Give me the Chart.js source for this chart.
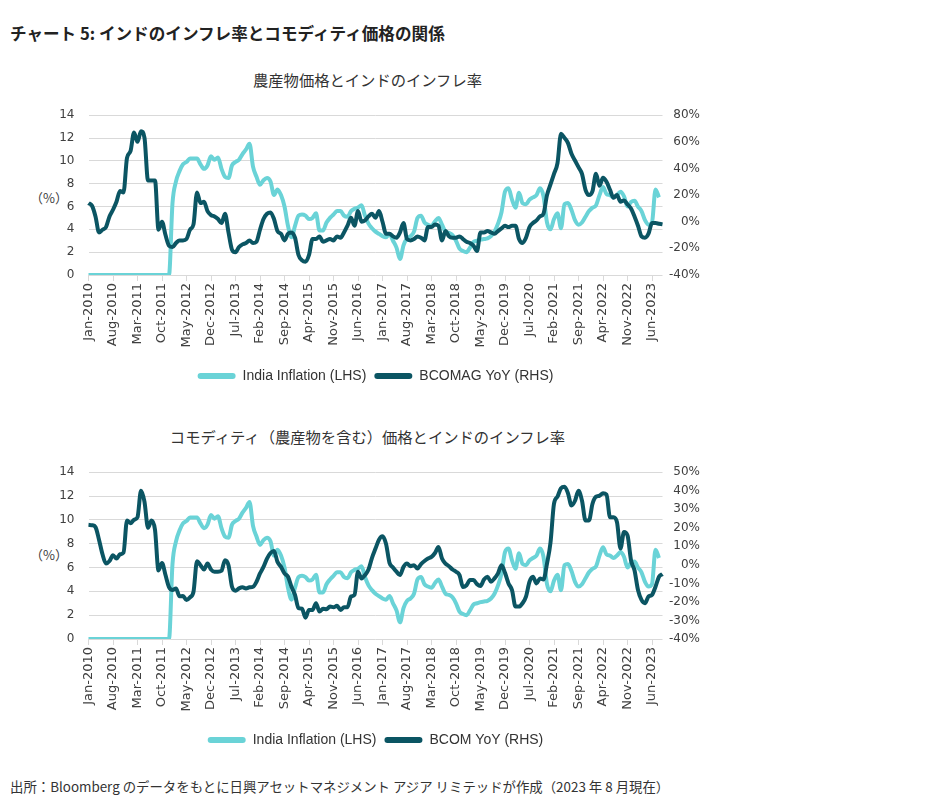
<!DOCTYPE html>
<html lang="ja">
<head>
<meta charset="utf-8">
<title>チャート 5</title>
<script src="https://cdn.jsdelivr.net/npm/chart.js@4.4.0/dist/chart.umd.min.js"></script>
<style>
  body { margin: 0; background: #fff; width: 934px; height: 812px; position: relative; overflow: hidden;
         font-family: 'Noto Sans CJK JP', sans-serif; color: #333; }
  .txt { position: absolute; line-height: 1; white-space: nowrap; }
  .title { left: 10px; top: 25px; font-size: 16.6px; font-weight: 700; color: #222; }
  .sub { left: 80px; width: 575px; text-align: center; font-size: 15.3px; color: #333; }
  .unit { left: 30px; font-size: 13px; color: #404040; }
  .src { left: 10px; top: 780px; font-size: 13.4px; color: #333; }
  .box { position: absolute; left: 0; width: 934px; }
</style>
</head>
<body>
<div class="txt title">チャート 5: インドのインフレ率とコモディティ価格の関係</div>
<div class="txt sub" style="top:72px">農産物価格とインドのインフレ率</div>
<div class="txt unit" style="top:191px">（%）</div>
<div class="box" style="top:94px;height:303px"><canvas id="chartAg"></canvas></div>
<div class="txt sub" style="top:429px">コモディティ（農産物を含む）価格とインドのインフレ率</div>
<div class="txt unit" style="top:548px">（%）</div>
<div class="box" style="top:451px;height:310px"><canvas id="chartAll"></canvas></div>
<div class="txt src">出所：Bloomberg のデータをもとに日興アセットマネジメント アジア リミテッドが作成（2023 年 8 月現在）</div>

<script>
// 月次データ Jan-2010 ～ Sep-2023
const monthNames = ['Jan', 'Feb', 'Mar', 'Apr', 'May', 'Jun', 'Jul', 'Aug', 'Sep', 'Oct', 'Nov', 'Dec'];
const firstYear = 2010;
const monthCount = 165;
const tickEvery = 7;

const categories = [];
for (let i = 0; i < monthCount; i++) {
    categories.push(monthNames[i % 12] + '-' + (firstYear + Math.floor(i / 12)));
}

// India Inflation (%), 2012年以前は 0
const indiaInflation = [
    0, 0, 0, 0, 0, 0, 0, 0, 0, 0, 0, 0,
    0, 0, 0, 0, 0, 0, 0, 0, 0, 0, 0, 0,
    6.3, 8.2, 9.1, 9.7, 9.9, 10.2, 10.2, 10.2, 9.7, 9.3, 9.6, 10.4,
    10.1, 10.3, 9.3, 8.6, 8.5, 9.6, 9.9, 10.1, 10.6, 11.0, 11.5, 9.5,
    8.6, 7.9, 8.3, 8.5, 8.2, 7.0, 7.5, 7.0, 6.0, 4.3, 3.3, 4.3,
    5.2, 5.3, 5.2, 4.9, 5.0, 5.4, 3.9, 3.9, 4.6, 5.0, 5.3, 5.6,
    5.6, 5.2, 5.1, 5.6, 5.8, 5.9, 6.1, 5.2, 4.5, 4.1, 3.8, 3.6,
    3.4, 3.3, 3.6, 3.0, 2.4, 1.4, 2.6, 3.2, 3.4, 3.8, 5.0, 5.2,
    4.6, 4.4, 4.3, 4.7, 5.0, 4.4, 3.8, 3.7, 3.5, 3.0, 2.3, 2.1,
    2.0, 2.4, 2.9, 3.0, 3.1, 3.15, 3.2, 3.4, 3.8, 4.5, 5.5, 7.3,
    7.6, 6.6, 5.9, 7.2, 6.3, 6.2, 6.6, 6.8, 7.0, 7.6, 6.9, 4.6,
    4.0, 4.9, 5.4, 4.1, 6.2, 6.3, 5.7, 4.8, 4.4, 4.6, 5.1, 5.6,
    5.9, 6.1, 7.0, 7.7, 7.1, 7.0, 6.8, 7.0, 7.3, 6.9, 6.0, 6.4,
    6.5, 6.0, 5.6, 4.8, 4.4, 4.6, 7.5, 6.8
];

// BCOMAG YoY (%)
const bcomagYoY = [
    14, 12, 4, -8, -6, -4, 4, 9, 15, 23, 22, 48,
    53, 67, 60, 68, 63, 31, 31, 31, -6, 0, -10, -18,
    -19, -16, -14, -14, -13, -6, -2, 22, 14, 15, 8, 5,
    4, 2, -1, 6, -8, -21, -23, -19, -17, -16, -14, -16,
    -15, -6, 2, 6, 7, 2, -7, -9, -14, -9, -8, -12,
    -25, -29, -30, -25, -13, -13, -11, -15, -14, -13, -14, -11,
    -12, -8, -3, 3, -3, 8, 0, 1, 4, 6, 3, 8,
    0, -9, -9, -11, -12, -8, -1, -13, -14, -13, -11, -12,
    -14, -4, -4, -2, -3, -14, -7, -11, -12, -12, -11, -13,
    -15, -16, -18, -22, -8, -8, -7, -8, -9, -7, -5, -3,
    -4, -3, -3, -13, -16, -12, -4, -1, 1, 4, 6, 20,
    28, 36, 44, 66, 63, 59, 51, 46, 41, 36, 24, 20,
    23, 36, 27, 33, 30, 24, 18, 20, 15, 16, 13, 10,
    4, -3, -11, -12, -9, -1, -1, -1.5, -2
];

// BCOM YoY (%)
const bcomYoY = [
    21.6, 21.4, 20.4, 13.6, 5.7, 0.7, 2.1, 5.2, 3.4, 5.7, 6.6, 24,
    22.5, 24.3, 25.7, 40, 34, 20, 24, 19, -3, 1, -5.5, -12,
    -13.6, -12.7, -17, -16.8, -19, -17.5, -14.5, 2, -0.2, -2.5, 0.7, -2.5,
    -3.7, -3.7, -3.2, 2.5, -0.2, -11.8, -13.9, -12.7, -12.1, -12.7, -12.1, -11.8,
    -9.1, -4.6, -1.1, 3.4, 6.4, 7.5, 1.6, -1.1, -4.6, -6.4, -11.8, -16.2,
    -23.4, -23.7, -28.5, -24.3, -24.3, -20.7, -25.2, -23.7, -23.9, -22.5, -22.9, -22.1,
    -24.3, -22.9, -22.9, -17.1, -16.2, -3.7, -7.3, -5.5, -2.5, 3.8, 8.8, 13.6,
    15.4, 11.4, 1.1, -1.4, -3.7, -5.5, -1.1, 0.7, -0.7, -0.2, -2, 0.4,
    2.1, 3.4, 4.3, 6.4, 9.6, 3.4, 0.7, -0.7, -2.5, -3.7, -5.5, -12,
    -11, -8.2, -8.2, -10.4, -11.4, -7.9, -6.4, -9.1, -7.3, -4.6, -0.2, -4.3,
    -10, -13.6, -22.5, -22.5, -20.7, -17.1, -9.1, -6.4, -10, -7.3, -7.9, 0.7,
    12, 33, 36.8, 41.4, 42.2, 38.6, 32, 34.6, 40, 34.6, 24, 24,
    33, 36.8, 37.3, 38.6, 37.9, 25.7, 25.7, 23, 8.8, 17.7, 15.9, 2.5,
    -2.9, -13.6, -18.9, -20.7, -17.1, -16.2, -11.8, -6.4, -5
];

const lightColor = '#6ad3d7';
const darkColor = '#0b5563';
const tickColor = '#404040';
const gridColor = '#d9d9d9';

function makeChart(canvasId, rightData, rightLabel, rightMin, rightMax, rightStep) {
    const ctx = document.getElementById(canvasId).getContext('2d');
    return new Chart(ctx, {
        type: 'line',
        data: {
            labels: categories,
            datasets: [{
                label: 'India Inflation (LHS)',
                data: indiaInflation,
                borderColor: lightColor,
                backgroundColor: lightColor,
                borderWidth: 4,
                pointRadius: 0,
                cubicInterpolationMode: 'monotone',
                yAxisID: 'y',
                order: 2
            }, {
                label: rightLabel,
                data: rightData,
                borderColor: darkColor,
                backgroundColor: darkColor,
                borderWidth: 4,
                pointRadius: 0,
                cubicInterpolationMode: 'monotone',
                yAxisID: 'y1',
                order: 1
            }]
        },
        options: {
            responsive: true,
            maintainAspectRatio: false,
            animation: false,
            layout: { padding: { top: 0, bottom: 4, left: 0, right: 234 } },
            plugins: {
                tooltip: { enabled: false },
                legend: {
                    position: 'bottom',
                    fullSize: false,
                    labels: {
                        boxWidth: 38,
                        boxHeight: 6,
                        useBorderRadius: true,
                        borderRadius: 3,
                        padding: 8,
                        color: '#333',
                        font: { family: "'Liberation Sans', Arial, sans-serif", size: 14 },
                        sort: (a, b) => a.datasetIndex - b.datasetIndex,
                        generateLabels: function (chart) {
                            const items = Chart.defaults.plugins.legend.labels.generateLabels(chart);
                            items.forEach(it => { it.lineWidth = 0; });
                            return items;
                        }
                    }
                }
            },
            scales: {
                x: {
                    offset: false,
                    grid: { display: true, drawOnChartArea: false, drawTicks: true, tickLength: 6, color: gridColor },
                    border: { display: false },
                    ticks: {
                        autoSkip: false,
                        maxRotation: 90,
                        minRotation: 90,
                        padding: 2,
                        color: tickColor,
                        font: { family: "'DejaVu Sans', sans-serif", size: 13 },
                        callback: function (val, idx) {
                            return idx % tickEvery === 0 ? categories[idx] : null;
                        }
                    },
                    afterFit: function (scale) { scale.height = 86; }
                },
                y: {
                    position: 'left',
                    min: 0,
                    max: 14,
                    grid: { color: gridColor, drawTicks: false },
                    border: { display: false },
                    ticks: {
                        stepSize: 2,
                        padding: 14,
                        color: tickColor,
                        font: { family: "'DejaVu Sans', sans-serif", size: 12 }
                    },
                    afterFit: function (scale) { scale.width = 88.5; }
                },
                y1: {
                    position: 'right',
                    min: rightMin,
                    max: rightMax,
                    grid: { display: false, drawTicks: false },
                    border: { display: false },
                    ticks: {
                        stepSize: rightStep,
                        padding: 0,
                        crossAlign: 'far',
                        color: tickColor,
                        font: { family: "'DejaVu Sans', sans-serif", size: 12 },
                        callback: v => v + '%'
                    },
                    afterFit: function (scale) { scale.width = 37.5; }
                }
            }
        }
    });
}

makeChart('chartAg', bcomagYoY, 'BCOMAG YoY (RHS)', -40, 80, 20);
makeChart('chartAll', bcomYoY, 'BCOM YoY (RHS)', -40, 50, 10);
</script>
</body>
</html>
